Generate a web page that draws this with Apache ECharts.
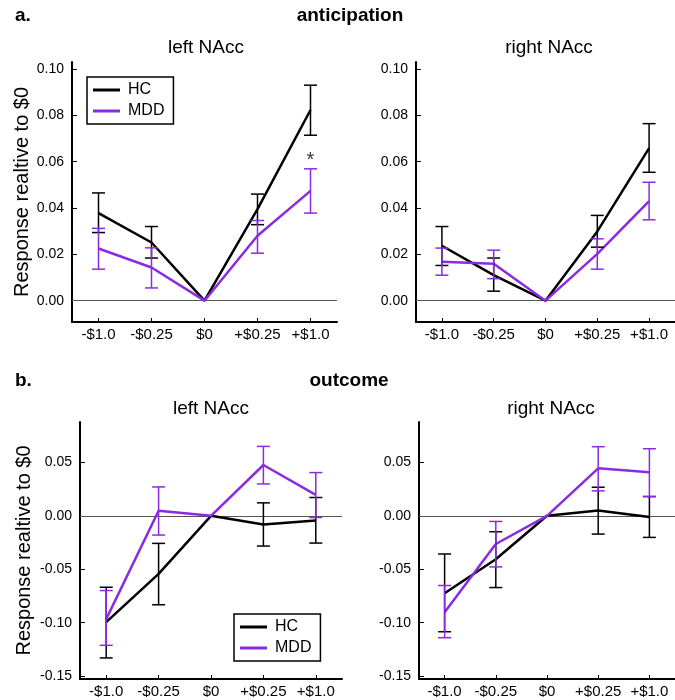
<!DOCTYPE html>
<html>
<head>
<meta charset="utf-8">
<script src="https://cdn.jsdelivr.net/npm/echarts@6/dist/echarts.min.js"></script>
<style>
html,body{margin:0;padding:0;background:#fff;}
#chart{width:675px;height:700px;}
</style>
</head>
<body>
<div id="chart"></div>
<script>
// ---- data ----
const categories = ['-$1.0', '-$0.25', '$0', '+$0.25', '+$1.0'];
const groups = ['HC', 'MDD'];

// anticipation, left NAcc
const antLeftHC = [0.0378, 0.0251, 0, 0.0395, 0.0823];
const antLeftHCLow = [0.0294, 0.0184, null, 0.0328, 0.0714];
const antLeftHCHigh = [0.0465, 0.0320, null, 0.0460, 0.0930];
const antLeftMDD = [0.0225, 0.0143, 0, 0.0280, 0.0474];
const antLeftMDDLow = [0.0136, 0.0055, null, 0.0205, 0.0378];
const antLeftMDDHigh = [0.0312, 0.0228, null, 0.0346, 0.0569];
// anticipation, right NAcc
const antRightHC = [0.0237, 0.0110, 0, 0.0299, 0.0658];
const antRightHCLow = [0.0152, 0.0041, null, 0.0231, 0.0554];
const antRightHCHigh = [0.0320, 0.0184, null, 0.0368, 0.0764];
const antRightMDD = [0.0168, 0.0159, 0, 0.0202, 0.0430];
const antRightMDDLow = [0.0110, 0.0095, null, 0.0136, 0.0349];
const antRightMDDHigh = [0.0227, 0.0218, null, 0.0267, 0.0511];
// outcome, left NAcc
const outLeftHC = [-0.0994, -0.0543, 0, -0.0081, -0.0043];
const outLeftHCLow = [-0.1329, -0.0832, null, -0.0283, -0.0255];
const outLeftHCHigh = [-0.0668, -0.0258, null, 0.0121, 0.0171];
const outLeftMDD = [-0.0966, 0.0047, 0, 0.0475, 0.0196];
const outLeftMDDLow = [-0.1211, -0.0180, null, 0.0298, -0.0016];
const outLeftMDDHigh = [-0.0699, 0.0270, null, 0.0649, 0.0404];
// outcome, right NAcc
const outRightHC = [-0.0724, -0.0407, 0, 0.0050, -0.0012];
const outRightHCLow = [-0.1084, -0.0671, null, -0.0171, -0.0202];
const outRightHCHigh = [-0.0357, -0.0149, null, 0.0267, 0.0180];
const outRightMDD = [-0.0901, -0.0264, 0, 0.0444, 0.0407];
const outRightMDDLow = [-0.1140, -0.0478, null, 0.0233, 0.0180];
const outRightMDDHigh = [-0.0652, -0.0053, null, 0.0646, 0.0627];

// significance marker (anticipation, left NAcc)
const starCategory = '+$1.0';
const starValue = 0.0605;
const starText = '*';

// tick labels
const antTicks = [0, 0.02, 0.04, 0.06, 0.08, 0.10];
const outTicks = [-0.15, -0.10, -0.05, 0, 0.05];

// text
const yTitle = 'Response realtive to $0';
const panelA = 'a.';
const panelB = 'b.';
const titleA = 'anticipation';
const titleB = 'outcome';
const subLeft = 'left NAcc';
const subRight = 'right NAcc';

// ---- styles ----
const colHC = '#000000';
const colMDD = '#8a2be2';
const FONT = 'Liberation Sans, Arial, Helvetica, sans-serif';

const grids = [
  {left: 72, top: 62, width: 265, height: 260},
  {left: 416, top: 62, width: 263, height: 260},
  {left: 80, top: 422, width: 262, height: 257},
  {left: 419, top: 422, width: 262, height: 257}
];
const yRanges = [
  {min: -0.0092, max: 0.103, ticks: antTicks, gap: 38},
  {min: -0.0092, max: 0.103, ticks: antTicks, gap: 38},
  {min: -0.1526, max: 0.0877, ticks: outTicks, gap: 46},
  {min: -0.1526, max: 0.0877, ticks: outTicks, gap: 46}
];

const panels = [
  {hc: antLeftHC, hcLo: antLeftHCLow, hcHi: antLeftHCHigh, mdd: antLeftMDD, mddLo: antLeftMDDLow, mddHi: antLeftMDDHigh},
  {hc: antRightHC, hcLo: antRightHCLow, hcHi: antRightHCHigh, mdd: antRightMDD, mddLo: antRightMDDLow, mddHi: antRightMDDHigh},
  {hc: outLeftHC, hcLo: outLeftHCLow, hcHi: outLeftHCHigh, mdd: outLeftMDD, mddLo: outLeftMDDLow, mddHi: outLeftMDDHigh},
  {hc: outRightHC, hcLo: outRightHCLow, hcHi: outRightHCHigh, mdd: outRightMDD, mddLo: outRightMDDLow, mddHi: outRightMDDHigh}
];

function errData(lo, hi) {
  const out = [];
  lo.forEach((v, i) => { if (v !== null && hi[i] !== null) out.push([i, v, hi[i]]); });
  return out;
}
function makeErrRender(color) {
  return function (params, api) {
    const x = api.value(0);
    const p1 = api.coord([x, api.value(1)]);
    const p2 = api.coord([x, api.value(2)]);
    const w = 6.5;
    const st = {stroke: color, lineWidth: 1.5};
    return {
      type: 'group',
      children: [
        {type: 'line', shape: {x1: p1[0], y1: p1[1], x2: p2[0], y2: p2[1]}, style: st},
        {type: 'line', shape: {x1: p1[0] - w, y1: p1[1], x2: p1[0] + w, y2: p1[1]}, style: st},
        {type: 'line', shape: {x1: p2[0] - w, y1: p2[1], x2: p2[0] + w, y2: p2[1]}, style: st}
      ]
    };
  };
}

const xAxes = grids.map((g, i) => ({
  type: 'category', gridIndex: i, data: categories, boundaryGap: true,
  axisLine: {onZero: false, lineStyle: {color: '#000', width: 2}},
  axisTick: {show: true, inside: true, length: 4, alignWithLabel: true, interval: 0, lineStyle: {color: '#000', width: 1}},
  axisLabel: {interval: 0, color: '#000', fontSize: 15, fontFamily: FONT, margin: 5},
  splitLine: {show: false}
}));
const yAxes = grids.map((g, i) => ({
  type: 'value', gridIndex: i, min: yRanges[i].min, max: yRanges[i].max,
  name: (i % 2 === 0) ? yTitle : '', nameLocation: 'middle', nameGap: yRanges[i].gap,
  nameTextStyle: {color: '#000', fontSize: 20, fontFamily: FONT},
  axisLine: {show: true, lineStyle: {color: '#000', width: 2}},
  axisTick: {show: true, inside: true, length: 5, customValues: yRanges[i].ticks, lineStyle: {color: '#000', width: 1}},
  axisLabel: {color: '#000', fontSize: 14, fontFamily: FONT, margin: 8, customValues: yRanges[i].ticks,
    formatter: v => v.toFixed(2)},
  splitLine: {show: false}
}));

const series = [];
panels.forEach((p, i) => {
  series.push({
    name: 'HC', type: 'line', xAxisIndex: i, yAxisIndex: i, data: p.hc,
    symbol: 'none', lineStyle: {color: colHC, width: 2.5}, itemStyle: {color: colHC}, z: 3,
    markLine: {silent: true, symbol: 'none', label: {show: false},
      lineStyle: {color: '#555', width: 1, type: 'solid'}, data: [{yAxis: 0}], z: 1}
  });
  series.push({
    name: 'MDD', type: 'line', xAxisIndex: i, yAxisIndex: i, data: p.mdd,
    symbol: 'none', lineStyle: {color: colMDD, width: 2.5}, itemStyle: {color: colMDD}, z: 4
  });
  series.push({
    name: 'HC', type: 'custom', xAxisIndex: i, yAxisIndex: i, data: errData(p.hcLo, p.hcHi),
    renderItem: makeErrRender(colHC), itemStyle: {color: colHC}, z: 5, silent: true
  });
  series.push({
    name: 'MDD', type: 'custom', xAxisIndex: i, yAxisIndex: i, data: errData(p.mddLo, p.mddHi),
    renderItem: makeErrRender(colMDD), itemStyle: {color: colMDD}, z: 6, silent: true
  });
});
series.push({
  type: 'scatter', xAxisIndex: 0, yAxisIndex: 0, data: [[starCategory, starValue]],
  symbolSize: 0, silent: true,
  label: {show: true, position: 'inside', formatter: starText, color: '#000', fontSize: 20, fontFamily: FONT}
});

const legendBase = {
  orient: 'vertical', data: groups, icon: 'rect', itemWidth: 27, itemHeight: 3, itemGap: 5,
  borderColor: '#000', borderWidth: 1.5, padding: [5, 9, 5, 6], selectedMode: false,
  textStyle: {color: '#000', fontSize: 16, fontFamily: FONT, padding: [0, 0, 0, 3]}
};

function txt(text, x, y, size, bold, align) {
  return {type: 'text', style: {text: text, x: x, y: y, align: align || 'center', verticalAlign: 'middle',
    fontSize: size, fontWeight: bold ? 'bold' : 'normal', fontFamily: FONT, fill: '#000'}};
}

const option = {
  backgroundColor: '#fff',
  animation: false,
  grid: grids.map(g => Object.assign({containLabel: false}, g)),
  xAxis: xAxes,
  yAxis: yAxes,
  legend: [
    Object.assign({left: 87, top: 77}, legendBase),
    Object.assign({left: 234, top: 614}, legendBase)
  ],
  graphic: [
    txt(panelA, 15, 16, 19, true, 'left'),
    txt(titleA, 350, 16, 19, true),
    txt(subLeft, 206, 48, 19, false),
    txt(subRight, 549, 48, 19, false),
    txt(panelB, 15, 381, 19, true, 'left'),
    txt(titleB, 349, 381, 19, true),
    txt(subLeft, 211, 409, 19, false),
    txt(subRight, 551, 409, 19, false)
  ],
  series: series
};

const chart = echarts.init(document.getElementById('chart'), null, {renderer: 'canvas'});
chart.setOption(option);
</script>
</body>
</html>
